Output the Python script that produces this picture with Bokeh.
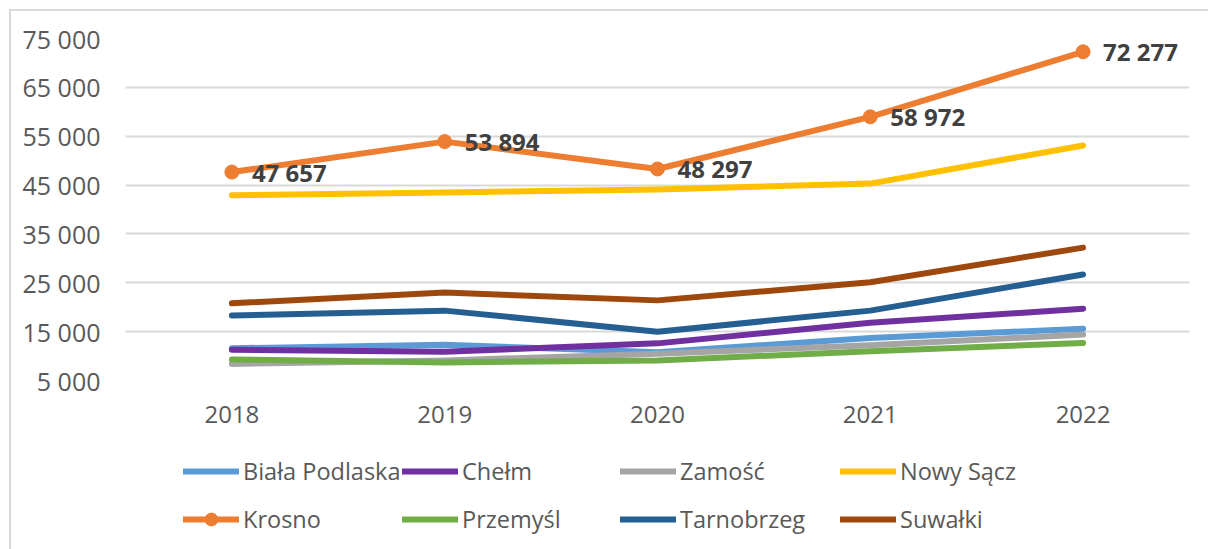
from bokeh.plotting import figure
from bokeh.layouts import column
from bokeh.models import Range1d, FixedTicker, Legend, LegendItem, ColumnDataSource
from bokeh.core.properties import value
from bokeh.embed import file_html
from bokeh.resources import INLINE

years = ["2018", "2019", "2020", "2021", "2022"]
biala = [11600, 12300, 10800, 13700, 15600]
chelm = [11300, 10900, 12600, 16800, 19700]
zamosc = [8400, 9100, 10500, 12200, 14400]
nowy_sacz = [42900, 43500, 44100, 45300, 53100]
krosno = [47657, 53894, 48297, 58972, 72277]
przemysl = [9300, 8700, 9100, 11000, 12700]
tarnobrzeg = [18300, 19300, 15000, 19300, 26700]
suwalki = [20800, 23000, 21400, 25100, 32200]
y_ticks = [5000, 15000, 25000, 35000, 45000, 55000, 65000, 75000]

series = [
    ("Biała Podlaska", biala, "#5B9BD5"),
    ("Chełm", chelm, "#7030A0"),
    ("Zamość", zamosc, "#A5A5A5"),
    ("Nowy Sącz", nowy_sacz, "#FFC000"),
    ("Krosno", krosno, "#ED7D31"),
    ("Przemyśl", przemysl, "#70AD47"),
    ("Tarnobrzeg", tarnobrzeg, "#255E91"),
    ("Suwałki", suwalki, "#9E480E"),
]

FONT = "Open Sans"

p = figure(width=1199, height=436, x_range=years, y_range=Range1d(5000, 75000),
           output_backend="svg", toolbar_location=None,
           min_border_left=114, min_border_right=21, min_border_top=27, min_border_bottom=67)
p.outline_line_color = None

p.yaxis.ticker = FixedTicker(ticks=y_ticks)
p.yaxis.major_label_overrides = {t: f"{t:,}".replace(",", " ") for t in y_ticks}
p.yaxis.axis_line_color = None
p.yaxis.major_tick_line_color = None
p.yaxis.minor_tick_line_color = None
p.yaxis.major_label_standoff = 19
p.yaxis.major_label_text_font = FONT
p.yaxis.major_label_text_font_size = "25px"
p.yaxis.major_label_text_color = "#595959"

p.xaxis.axis_line_color = None
p.xaxis.major_tick_line_color = None
p.xaxis.major_label_standoff = 19
p.xaxis.major_label_text_font = FONT
p.xaxis.major_label_text_font_size = "24px"
p.xaxis.major_label_text_color = "#595959"

p.xgrid.grid_line_color = None
p.ygrid.ticker = FixedTicker(ticks=y_ticks)
p.ygrid.grid_line_color = "#D9D9D9"
p.ygrid.grid_line_width = 2

for name, vals, col in series:
    p.line(years, vals, line_color=col, line_width=6, line_cap="round", line_join="round")
    if name == "Krosno":
        p.scatter(years, vals, size=14, fill_color=col, line_color=col)
        src = ColumnDataSource(dict(x=years, y=vals,
                                    t=[f"{v:,}".replace(",", " ") for v in vals]))
        p.text("x", "y", text="t", source=src, x_offset=20, text_baseline="middle",
               text_align="left", text_font=value(FONT), text_font_style="bold",
               text_font_size="24px", text_color="#404040")

# legend strip (legend glyph stand-ins lie outside the visible range)
lf = figure(width=1199, height=104, x_range=Range1d(0, 1), y_range=Range1d(0, 1),
            output_backend="svg", toolbar_location=None,
            min_border_left=0, min_border_right=0, min_border_top=0, min_border_bottom=0)
lf.axis.visible = False
lf.grid.visible = False
lf.outline_line_color = None

col_x = [58, 277, 495, 715]
row_y = [64, 16]
for i, (name, vals, col) in enumerate(series):
    rs = [lf.line([-5, -4], [-5, -5], line_color=col, line_width=6, line_cap="round")]
    if name == "Krosno":
        rs.append(lf.scatter([-5], [-5], size=14, fill_color=col, line_color=col))
    lg = Legend(items=[LegendItem(label=name, renderers=rs)],
                location=(col_x[i % 4], row_y[i // 4]),
                padding=0, margin=0, spacing=0,
                glyph_width=56, glyph_height=32, label_height=32, label_standoff=4,
                label_text_font=FONT, label_text_font_size="23.5px",
                label_text_color="#595959",
                border_line_color=None, background_fill_alpha=0)
    lf.add_layout(lg, "center")

layout = column(p, lf, spacing=0,
                styles={"margin-left": "9px", "margin-top": "9px",
                        "border-left": "2px solid #D9D9D9", "border-top": "2px solid #D9D9D9"})

open("out.html", "w").write(file_html(layout, INLINE))
